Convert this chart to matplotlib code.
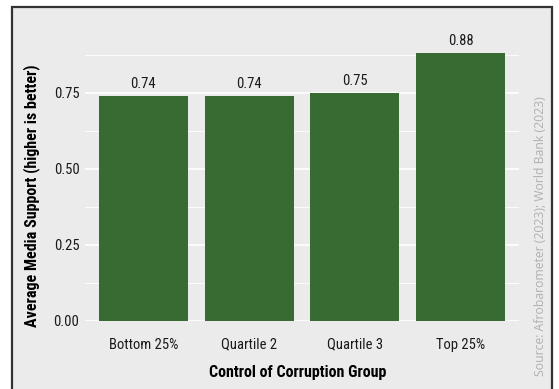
import matplotlib.pyplot as plt
from matplotlib.patches import Rectangle
import numpy as np

# average media support by control-of-corruption quartile
groups = ["Bottom 25%", "Quartile 2", "Quartile 3", "Top 25%"]
support = [0.74, 0.74, 0.75, 0.88]
y_ticks = [0.00, 0.25, 0.50, 0.75]

bg = "#EBEBEB"
bar_col = "#376B32"
narrow = ["Roboto Condensed", "Roboto", "DejaVu Sans"]

fig = plt.figure(figsize=(5.59, 3.89), dpi=100, facecolor="white")
# grey plot area with dark frame, open at the bottom
fig.patches.append(Rectangle((12 / 559, -0.05), 540 / 559, 1.05 - 7 / 389,
                             transform=fig.transFigure, facecolor=bg,
                             edgecolor="#333333", linewidth=1.6, zorder=-10))

ax = fig.add_axes([85 / 559, (389 - 321) / 389, 434 / 559, (321 - 39.8) / 389])
ax.set_facecolor(bg)
x = np.arange(len(groups))
ax.bar(x, support, width=0.84, color=bar_col, zorder=2)
for xi, v in zip(x, support):
    ax.text(xi, v + 0.017, f"{v:.2f}", ha="center", va="bottom",
            fontsize=10.5, family=narrow, color="#1a1a1a")

ax.set_xlim(-0.55, 3.55)
ax.set_ylim(0, 0.924)
ax.set_yticks(y_ticks)
ax.set_yticks([0.125, 0.375, 0.625, 0.875], minor=True)
ax.set_yticklabels([f"{t:.2f}" for t in y_ticks], family=narrow, fontsize=10.5,
                   color="#1a1a1a")
ax.set_xticks(x)
ax.set_xticklabels(groups, family=narrow, fontsize=10.5, color="#1a1a1a")
ax.grid(axis="y", which="major", color="white", linewidth=1.2, zorder=1)
ax.grid(axis="y", which="minor", color="white", linewidth=0.6, zorder=1)
ax.set_axisbelow(True)
ax.tick_params(axis="x", length=0, pad=12)
ax.tick_params(axis="y", length=0, pad=4)
ax.tick_params(axis="y", which="minor", length=0)
for s in ax.spines.values():
    s.set_visible(False)

ax.set_ylabel("Average Media Support (higher is better)", family=narrow,
              fontsize=11.5, fontweight="bold")
ax.set_xlabel("Control of Corruption Group", family=narrow, fontsize=11.5,
              fontweight="bold")
ax.yaxis.set_label_coords(-0.104, 0.445)
ax.xaxis.set_label_coords(0.491, -0.158)

fig.text(540 / 559, (389 - 236) / 389, "Source: Afrobarometer (2023); World Bank (2023)",
         rotation=90, ha="center", va="center", fontsize=8.8, color="#B0B0B0",
         family=["Open Sans", "DejaVu Sans"])

fig.savefig("out.png", dpi=100, facecolor="white")
